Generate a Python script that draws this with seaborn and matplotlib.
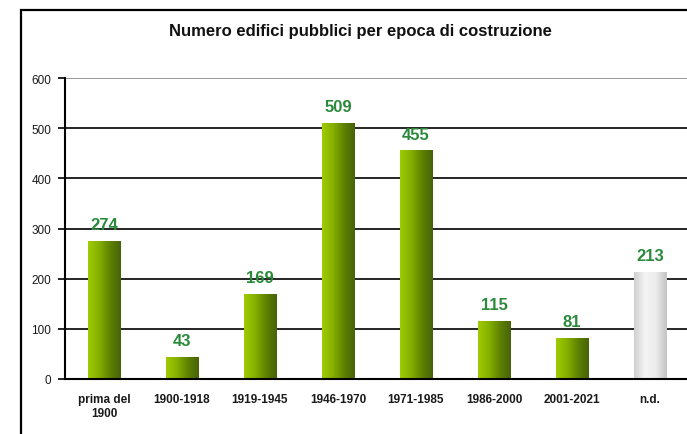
import numpy as np
import pandas as pd
import matplotlib
matplotlib.use("Agg")
import matplotlib.pyplot as plt
import matplotlib.patches as mpatches
from matplotlib.colors import LinearSegmentedColormap
import seaborn as sns

# dati
epoche = ["prima del\n1900", "1900-1918", "1919-1945", "1946-1970",
          "1971-1985", "1986-2000", "2001-2021", "n.d."]
edifici = [274, 43, 169, 509, 455, 115, 81, 213]
y_ticks = [0, 100, 200, 300, 400, 500, 600]
titolo = "Numero edifici pubblici per epoca di costruzione"

sns.set_style("white")
plt.rcParams['font.family'] = ['Liberation Sans', 'DejaVu Sans']

df = pd.DataFrame({"epoca": epoche, "n": edifici})

fig = plt.figure(figsize=(6.87, 4.35), dpi=100)
ax = fig.add_axes([65 / 687, 55 / 435, 624 / 687, 301 / 435])

colori = ["#7fa600"] * 7 + ["#dddddd"]
sns.barplot(data=df, x="epoca", y="n", hue="epoca", palette=colori,
            width=0.42, legend=False, ax=ax, zorder=2)

# sfumature delle barre
verde = LinearSegmentedColormap.from_list("verde", ["#9fcc00", "#86b000", "#5f8200", "#46620a"])
grigio = LinearSegmentedColormap.from_list("grigio", ["#cfcfcf", "#f4f4f4", "#ececec", "#c2c2c2"])
grad = np.linspace(0, 1, 256).reshape(1, -1)
for i, p in enumerate(ax.patches):
    x0, y0 = p.get_x(), p.get_y()
    w, h = p.get_width(), p.get_height()
    cmap = grigio if epoche[i] == "n.d." else verde
    ax.imshow(grad, cmap=cmap, extent=(x0, x0 + w, y0, y0 + h),
              aspect="auto", zorder=2.5, interpolation="bicubic")
    p.set_facecolor("none")
    p.set_edgecolor("none")
    ax.annotate(str(edifici[i]), (x0 + w / 2, y0 + h), xytext=(0, 12),
                textcoords="offset points", ha="center", va="center",
                fontsize=12, fontweight="bold", color="#2a8a3a", zorder=4)

ax.set_xlim(-0.5, 7.5)
ax.set_ylim(0, 600)
ax.set_yticks(y_ticks)
ax.set_yticklabels([str(v) for v in y_ticks], fontsize=8.5, color="#1a1a1a")

# griglia orizzontale
for v in y_ticks[1:-1]:
    ax.axhline(v, color="black", lw=1.2, zorder=1)
ax.axhline(600, color="#888888", lw=1.2, zorder=1)

ax.set_xticks(range(len(epoche)))
ax.set_xticklabels(epoche, fontsize=8.5, fontweight="bold", color="#1a1a1a")
ax.set_xticks(np.arange(-0.5, 7.5, 1), minor=True)
ax.tick_params(axis="x", which="major", length=0, pad=10)
ax.tick_params(axis="x", which="minor", length=4, width=1.2, color="black", direction="out")
ax.tick_params(axis="y", length=5, width=1.2, color="black", direction="out", left=True, pad=5)
ax.set_xlabel("")
ax.set_ylabel("")

for s in ["top", "right"]:
    ax.spines[s].set_visible(False)
ax.spines["left"].set_color("black")
ax.spines["bottom"].set_color("black")
ax.spines["left"].set_linewidth(1.5)
ax.spines["bottom"].set_linewidth(1.5)

fig.text(0.524, 0.928, titolo, ha="center", va="center", fontsize=12, fontweight="bold",
         color="#111111")

# cornice del grafico
cornice = mpatches.Rectangle((21 / 687, -0.1), 1.2, (435 - 11) / 435 + 0.1,
                             transform=fig.transFigure, fill=False, edgecolor="black",
                             lw=1.6, clip_on=False)
fig.patches.append(cornice)

fig.savefig("out.png", dpi=100)
